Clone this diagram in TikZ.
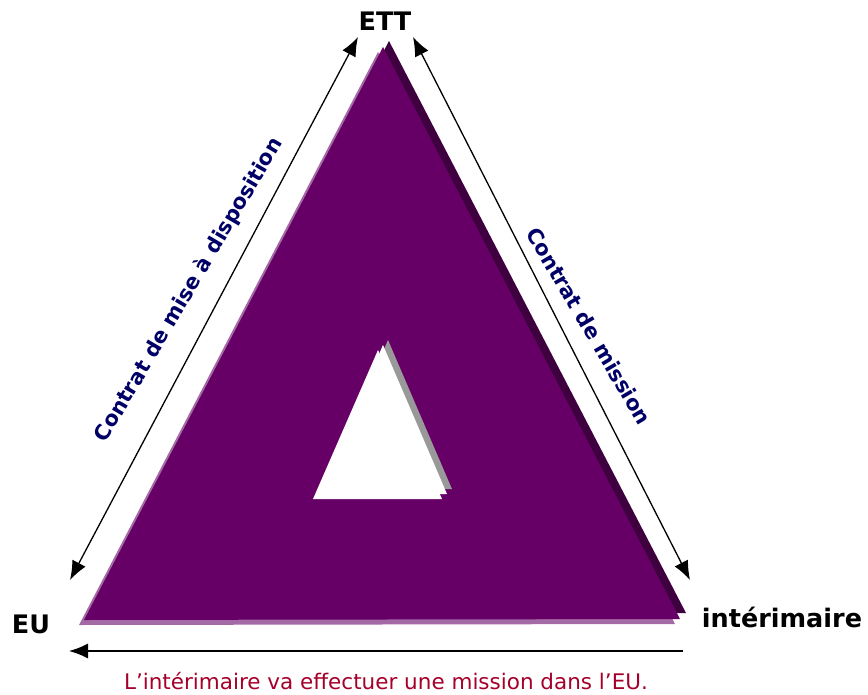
\documentclass[tikz,border=0pt]{standalone}
\usepackage{fontspec}
\setmainfont{DejaVu Sans}
\usetikzlibrary{arrows.meta}
\definecolor{plum}{HTML}{660066}
\definecolor{plumlight}{HTML}{A36AA5}
\definecolor{plumdark}{HTML}{3F003F}
\definecolor{holeshadow}{HTML}{999999}
\definecolor{navytext}{HTML}{000066}
\definecolor{redtext}{HTML}{A5002A}

\begin{document}
\begin{tikzpicture}[
    x=1pt,y=-1pt,
    corner/.style = { font=\fontsize{25.5}{30}\selectfont\bfseries,anchor=base },
    contract/.style = { font=\fontsize{21}{25}\selectfont\bfseries,text=navytext },
    caption/.style = { font=\fontsize{21.5}{26}\selectfont,text=redtext,anchor=base },
    arrowstyle/.style = { line width=1.3pt },
    twoway/.style = { arrowstyle,{Latex[length=19pt,width=15pt]}-{Latex[length=19pt,width=15pt]} },
    oneway/.style = { arrowstyle,-{Latex[length=19pt,width=15pt]} }
    ]
    \useasboundingbox (0,0) rectangle (868,694);
    % Definitions
    \coordinate (top)   at (383, 47);
    \coordinate (left)  at ( 84,620);
    \coordinate (right) at (680,619);
    \coordinate (htop)   at (378,350);
    \coordinate (hleft)  at (313,499);
    \coordinate (hright) at (442,499);
    \coordinate (lA) at ( 70,580);
    \coordinate (lB) at (358, 37);
    \coordinate (rA) at (413, 37);
    \coordinate (rB) at (690,580);
    \coordinate (bA) at (683,651);
    \coordinate (bB) at ( 69,651);
    % Triangle
    \fill[plumdark]  ([shift={(6,-6)}]top) -- ([shift={(6,-6)}]left) -- ([shift={(6,-6)}]right) -- cycle;
    \fill[plumlight] ([shift={(-5,5)}]top) -- ([shift={(-5,5)}]left) -- ([shift={(-5,5)}]right) -- cycle;
    \fill[plum]      (top) -- (left) -- (right) -- cycle;
    \fill[holeshadow] ([shift={(10,-10)}]htop) -- ([shift={(10,-10)}]hleft) -- ([shift={(10,-10)}]hright) -- cycle;
    \fill[white]      ([shift={(5,-5)}]htop) -- ([shift={(5,-5)}]hleft) -- ([shift={(5,-5)}]hright) -- cycle;
    \fill[white]      (htop) -- (hleft) -- (hright) -- cycle;
    % Nodes
    \node(ETT) [corner] at (385,30)  {ETT};
    \node(EU)  [corner] at ( 31,633) {EU};
    \node(int) [corner] at (782,627) {intérimaire};
    \node(cmd) [contract,rotate=59.5]  at (189,290) {Contrat de mise à disposition};
    \node(cm)  [contract,rotate=-59.5] at (589,326) {Contrat de mission};
    \node(cap) [caption] at (386,689) {L’intérimaire va effectuer une mission dans l’EU.};
    % Arrows
    \draw[twoway] (lA) -- (lB);
    \draw[twoway] (rA) -- (rB);
    \draw[oneway] (bA) -- (bB);
\end{tikzpicture}
\end{document}
